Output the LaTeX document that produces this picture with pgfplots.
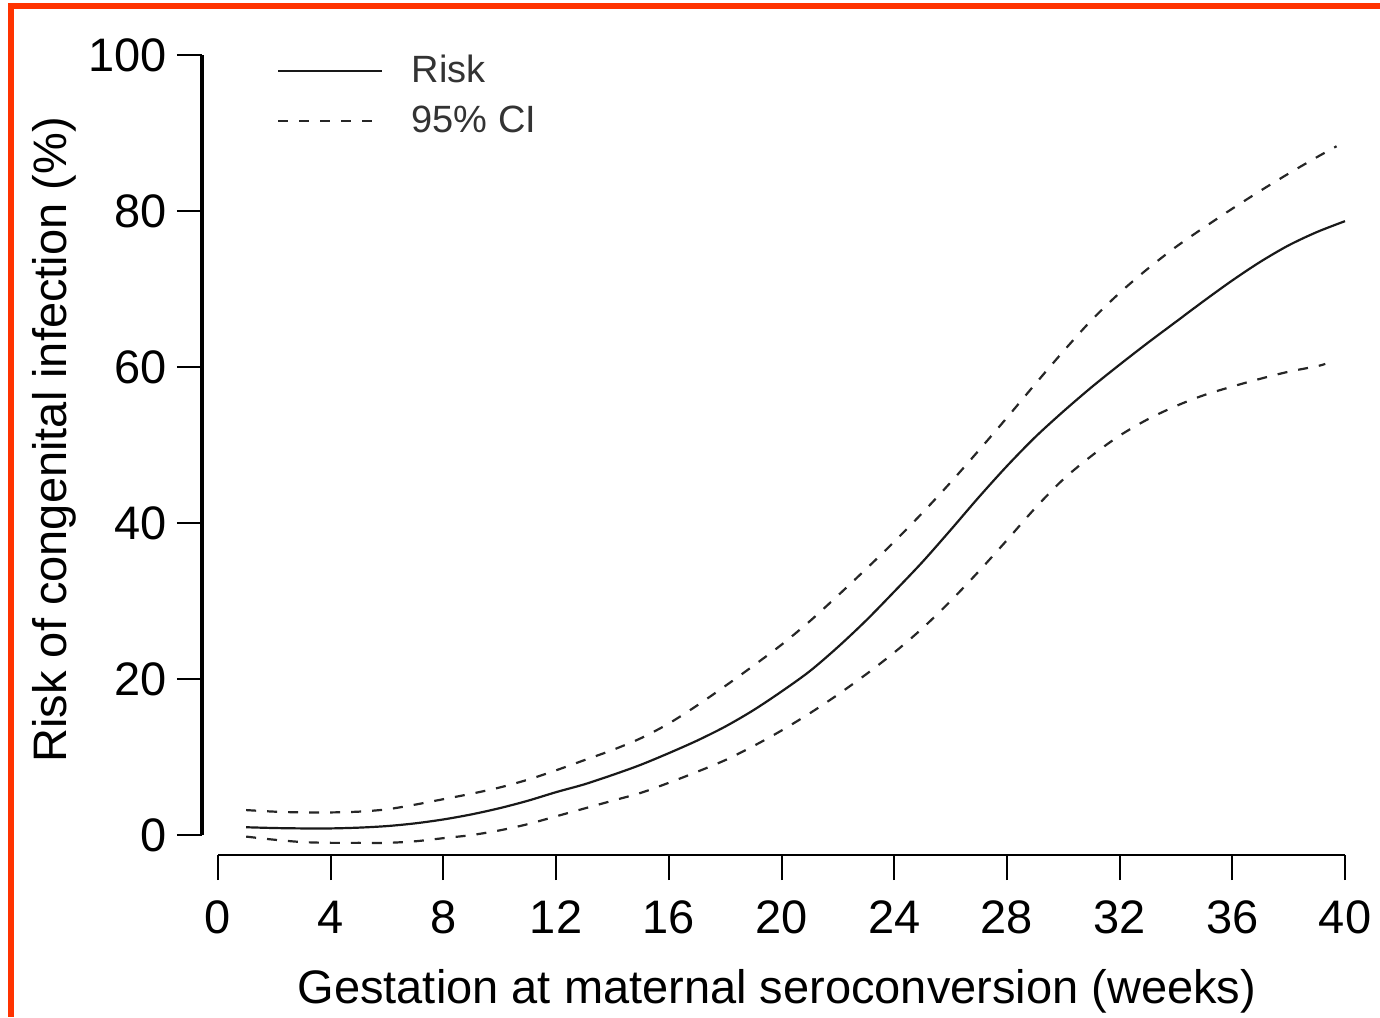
\documentclass[border=0pt]{standalone}
\usepackage{fontspec}
\setmainfont{Liberation Sans}
\usepackage{pgfplots}
\pgfplotsset{compat=1.18}
\definecolor{frame}{RGB}{255,51,0}

\begin{document}
\begin{tikzpicture}
\useasboundingbox (0,0) rectangle (690pt,-508.5pt);
\fill[frame] (4pt,-1.5pt) rectangle (690pt,-4.5pt);
\fill[frame] (4pt,-1.5pt) rectangle (7pt,-508.5pt);
\begin{axis}[
    at={(101pt,-427.5pt)}, anchor=south west,
    scale only axis,
    width=571.5pt, height=400pt,
    xmin=-0.568, xmax=40,
    ymin=-2.56, ymax=100,
    axis x line*=bottom, axis y line*=left,
    axis line style={draw=none},
    xtick={0,4,...,40},
    ytick={0,20,...,100},
    tick align=outside,
    major tick length=12.5pt,
    tick style={black, line width=1pt},
    font=\fontsize{23.5}{27}\selectfont,
    /pgf/number format/assume math mode=true,
    xticklabel style={yshift=-7pt},
    yticklabel style={xshift=-1.5pt},
    xlabel={Gestation at maternal seroconversion (weeks)},
    ylabel={Risk of congenital infection (\%)},
    xlabel style={at={(axis description cs:0.503,-0.17)}, anchor=center},
    ylabel style={at={(axis description cs:-0.129,0.519)}, anchor=center},
    clip=false,
    legend cell align=left,
    legend style={draw=none, fill=none, at={(axis description cs:0.0656,1.01)},
        anchor=north west, inner sep=0pt, row sep=2pt,
        font=\fontsize{19}{22}\selectfont, text=black!80,
        nodes={inner sep=4pt}},
    legend image code/.code={\draw[#1] (0pt,0pt) -- (52pt,0pt); \path (62pt,0pt);},
]
% axis lines, detached as in the original
\draw[line width=1.6pt] (axis cs:-0.568,0) -- (axis cs:-0.568,100);
\draw[line width=1pt] (axis cs:0,-2.56) -- (axis cs:40,-2.56);

\addplot[black!90, line width=1.1pt, smooth] coordinates {
(1,1.0) (2,0.9) (3,0.85) (4,0.85) (5,0.95) (6,1.15) (7,1.5) (8,2.0) (9,2.65) (10,3.45)
(11,4.4) (12,5.5) (13,6.5) (14,7.7) (15,9.0) (16,10.5) (17,12.1) (18,13.9) (19,16.0) (20,18.4)
(21,21.0) (22,24.1) (23,27.5) (24,31.2) (25,35.0) (26,39.1) (27,43.3) (28,47.3) (29,51.0) (30,54.3)
(31,57.4) (32,60.3) (33,63.1) (34,65.8) (35,68.5) (36,71.1) (37,73.5) (38,75.6) (39,77.3) (40,78.7)
};
\addlegendentry{Risk}

\addplot[black!85, line width=1.1pt, dash pattern=on 5pt off 5.5pt, smooth] coordinates {
(1,3.2) (2,3.0) (3,2.9) (4,2.9) (5,3.0) (6,3.3) (7,3.9) (8,4.6) (9,5.3) (10,6.1)
(11,7.1) (12,8.3) (13,9.6) (14,10.9) (15,12.4) (16,14.3) (17,16.6) (18,19.1) (19,21.7) (20,24.4)
(21,27.4) (22,30.7) (23,34.1) (24,37.6) (25,41.3) (26,45.2) (27,49.3) (28,53.5) (29,57.8) (30,62.0)
(31,66.0) (32,69.5) (33,72.6) (34,75.4) (35,77.9) (36,80.3) (37,82.6) (38,84.8) (39,86.9) (39.7,88.3)
};
\addlegendentry{95\% CI}

\addplot[black!85, line width=1.1pt, dash pattern=on 5pt off 5.5pt, smooth, forget plot] coordinates {
(1,-0.2) (2,-0.6) (3,-0.9) (4,-1.0) (5,-1.0) (6,-1.0) (7,-0.8) (8,-0.4) (9,0.0) (10,0.6)
(11,1.4) (12,2.4) (13,3.4) (14,4.4) (15,5.4) (16,6.7) (17,8.1) (18,9.6) (19,11.4) (20,13.4)
(21,15.6) (22,18.0) (23,20.6) (24,23.4) (25,26.5) (26,30.0) (27,33.8) (28,37.8) (29,41.9) (30,45.6)
(31,48.6) (32,51.2) (33,53.3) (34,55.0) (35,56.4) (36,57.5) (37,58.5) (38,59.4) (39,60.1) (39.3,60.4)
};
\end{axis}
\end{tikzpicture}
\end{document}
